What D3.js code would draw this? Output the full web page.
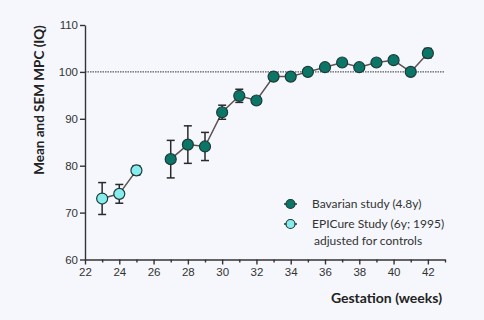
<!DOCTYPE html>
<html>
<head>
<meta charset="utf-8">
<script src="https://cdn.jsdelivr.net/npm/d3@7"></script>
<style>
  body { margin: 0; background: #f5f7fc; }
  svg { font-family: Lato, "Open Sans", sans-serif; }
  .axis path, .axis line { stroke: #333; stroke-width: 1.4; }
  .axis text { fill: #333; font-size: 11.5px; }
</style>
</head>
<body>
<svg width="484" height="320"></svg>
<script>
// EPICure study (6y; 1995), adjusted for controls
const epiWeeks = [23, 24, 25];
const epiMean = [73, 74, 79];
const epiSem = [3.4, 2, 1];

// Bavarian study (4.8y)
const bavWeeks = [27, 28, 29, 30, 31, 32, 33, 34, 35, 36, 37, 38, 39, 40, 41, 42];
const bavMean = [81.4, 84.5, 84.1, 91.4, 94.9, 93.9, 99, 99, 100, 101, 102, 101, 102, 102.5, 100, 104];
const bavSem = [4, 4, 3, 1.5, 1.4, 0.8, 0.4, 0.4, 0.4, 0.4, 0.4, 0.4, 0.4, 0.4, 0.4, 1];

const xTicks = [22, 24, 26, 28, 30, 32, 34, 36, 38, 40, 42];
const yTicks = [60, 70, 80, 90, 100, 110];
const refLine = 100;

const svg = d3.select("svg");
const margin = {top: 25, right: 39, bottom: 60.5, left: 85};
const width = 484 - margin.left - margin.right;
const height = 320 - margin.top - margin.bottom;

const x = d3.scaleLinear().domain([22, 43]).range([0, width]);
const y = d3.scaleLinear().domain([60, 110]).range([height, 0]);

const g = svg.append("g")
  .attr("transform", "translate(" + margin.left + "," + margin.top + ")");

// minor ticks on odd weeks
g.append("g")
    .attr("class", "axis")
    .attr("transform", "translate(0," + height + ")")
    .call(d3.axisBottom(x).tickValues(d3.range(23, 44, 2)).tickSize(3).tickFormat(""))
    .call(g => g.select(".domain").remove());

g.append("g")
    .attr("class", "axis axis--x")
    .attr("transform", "translate(0," + height + ")")
    .call(d3.axisBottom(x).tickValues(xTicks).tickSize(5).tickSizeOuter(0).tickPadding(3));

g.append("g")
    .attr("class", "axis axis--y")
    .call(d3.axisLeft(y).tickValues(yTicks).tickSize(5).tickSizeOuter(0).tickPadding(2));

// reference line at 100
g.append("line")
    .attr("x1", x(22)).attr("x2", x(43))
    .attr("y1", y(refLine)).attr("y2", y(refLine))
    .attr("stroke", "#333")
    .attr("stroke-width", 1)
    .attr("stroke-dasharray", "1.5,1");

function drawSeries(weeks, mean, sem, fill) {
  const data = weeks.map((w, i) => ({w: w, m: mean[i], s: sem[i]}));
  const line = d3.line().x(d => x(d.w)).y(d => y(d.m));
  g.append("path")
      .datum(data)
      .attr("fill", "none")
      .attr("stroke", "#5b5252")
      .attr("stroke-width", 1.5)
      .attr("d", line);

  const err = g.append("g").attr("stroke", "#2a2a2a").attr("stroke-width", 1.5);
  data.forEach(d => {
    err.append("line")
      .attr("x1", x(d.w)).attr("x2", x(d.w))
      .attr("y1", y(d.m - d.s)).attr("y2", y(d.m + d.s));
    [d.m - d.s, d.m + d.s].forEach(v => {
      err.append("line")
        .attr("x1", x(d.w) - 4).attr("x2", x(d.w) + 4)
        .attr("y1", y(v)).attr("y2", y(v));
    });
  });

  g.selectAll(null)
    .data(data)
    .enter().append("circle")
      .attr("cx", d => x(d.w))
      .attr("cy", d => y(d.m))
      .attr("r", 5.5)
      .attr("fill", fill)
      .attr("stroke", "#1d3b37")
      .attr("stroke-width", 1.2);
}

drawSeries(epiWeeks, epiMean, epiSem, "#86ecee");
drawSeries(bavWeeks, bavMean, bavSem, "#0b7668");

// legend
const legend = svg.append("g").attr("transform", "translate(284,0)");
const items = [
  {label: ["Bavarian study (4.8y)"], fill: "#0b7668", y: 204},
  {label: ["EPICure Study (6y; 1995)", "adjusted for controls"], fill: "#86ecee", y: 224}
];
items.forEach(it => {
  legend.append("line")
    .attr("x1", 0).attr("x2", 13).attr("y1", it.y).attr("y2", it.y)
    .attr("stroke", "#333").attr("stroke-width", 1.5);
  legend.append("circle")
    .attr("cx", 6.5).attr("cy", it.y).attr("r", 4.5)
    .attr("fill", it.fill).attr("stroke", "#1d3b37").attr("stroke-width", 1.2);
  it.label.forEach((t, i) => {
    legend.append("text")
      .attr("x", i === 0 ? 28 : 30)
      .attr("y", it.y + 4 + i * 17)
      .attr("font-size", 12)
      .attr("fill", "#333")
      .text(t);
  });
});

// axis titles
svg.append("text")
    .attr("x", 442)
    .attr("y", 303)
    .attr("text-anchor", "end")
    .attr("font-size", 14)
    .attr("font-weight", "bold")
    .attr("fill", "#222")
    .text("Gestation (weeks)");

svg.append("text")
    .attr("transform", "translate(44,100) rotate(-90)")
    .attr("text-anchor", "middle")
    .attr("font-size", 13.5)
    .attr("font-weight", "bold")
    .attr("fill", "#222")
    .text("Mean and SEM MPC (IQ)");
</script>
</body>
</html>
